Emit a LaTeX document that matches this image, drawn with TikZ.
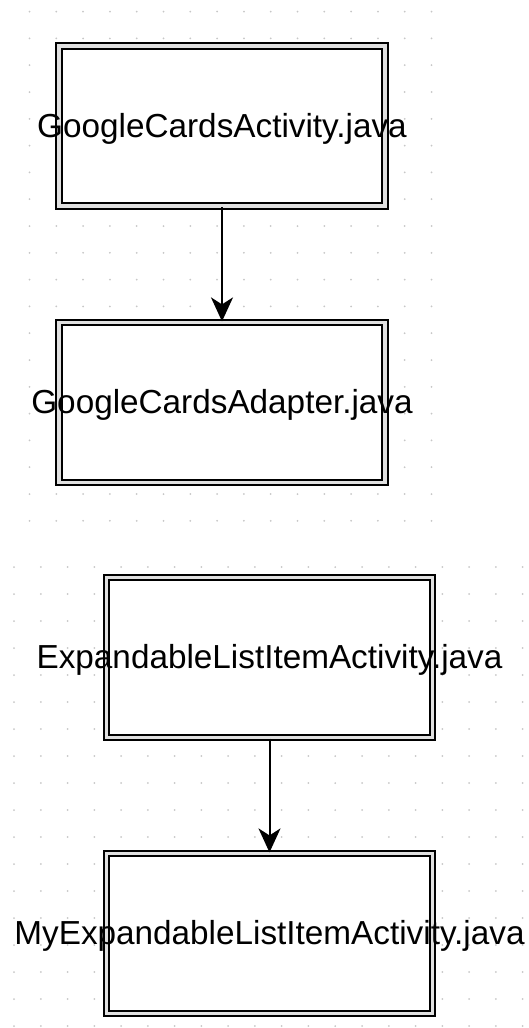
\documentclass[tikz,border=0pt]{standalone}
\usepackage{fontspec}
\setmainfont{Liberation Sans}
\usetikzlibrary{arrows.meta}

\tikzset{
  javabox/.style={draw=black, fill=white, line width=2.2pt, double=black!12,
    double distance=3.4pt, minimum width=326pt, minimum height=160pt, inner sep=0pt},
  javaname/.style={font=\fontsize{33.3}{40}\selectfont, inner sep=0pt, anchor=base},
  calls/.style={-{Stealth[length=24pt,width=22pt,inset=7pt]}, line width=2pt},
  griddot/.style={fill=black!22}
}

\begin{document}
\begin{tikzpicture}[x=1pt,y=-1pt]
  \useasboundingbox (0,0) rectangle (528,1028);

  % dotted canvas, upper and lower screenshot
  \foreach \i in {0,...,15}
    \foreach \j in {0,...,19}
      \fill[griddot] (29.5+26.8*\i, 11.6+26.8*\j) circle (1pt);
  \foreach \i in {0,...,19}
    \foreach \j in {0,...,17}
      \fill[griddot] (14+26.77*\i, 567+27*\j) circle (1pt);

  % the four classes
  \node[javabox] (cardsact) at (222,126) {};
  \node[javabox] (cardsadapt) at (222,402.5) {};
  \node[javabox] (listact) at (269.5,657.5) {};
  \node[javabox] (mylistact) at (269.5,933.5) {};

  \draw[calls] (cardsact) -- (cardsadapt);
  \draw[calls] (listact) -- (mylistact);

  \node[javaname] (cardsactname) at ([yshift=-11pt]cardsact.center) {GoogleCardsActivity.java};
  \node[javaname] (cardsadaptname) at ([yshift=-11pt]cardsadapt.center) {GoogleCardsAdapter.java};
  \node[javaname] (listactname) at ([yshift=-11pt]listact.center) {ExpandableListItemActivity.java};
  \node[javaname] (mylistactname) at ([yshift=-11pt]mylistact.center) {MyExpandableListItemActivity.java};
\end{tikzpicture}
\end{document}
